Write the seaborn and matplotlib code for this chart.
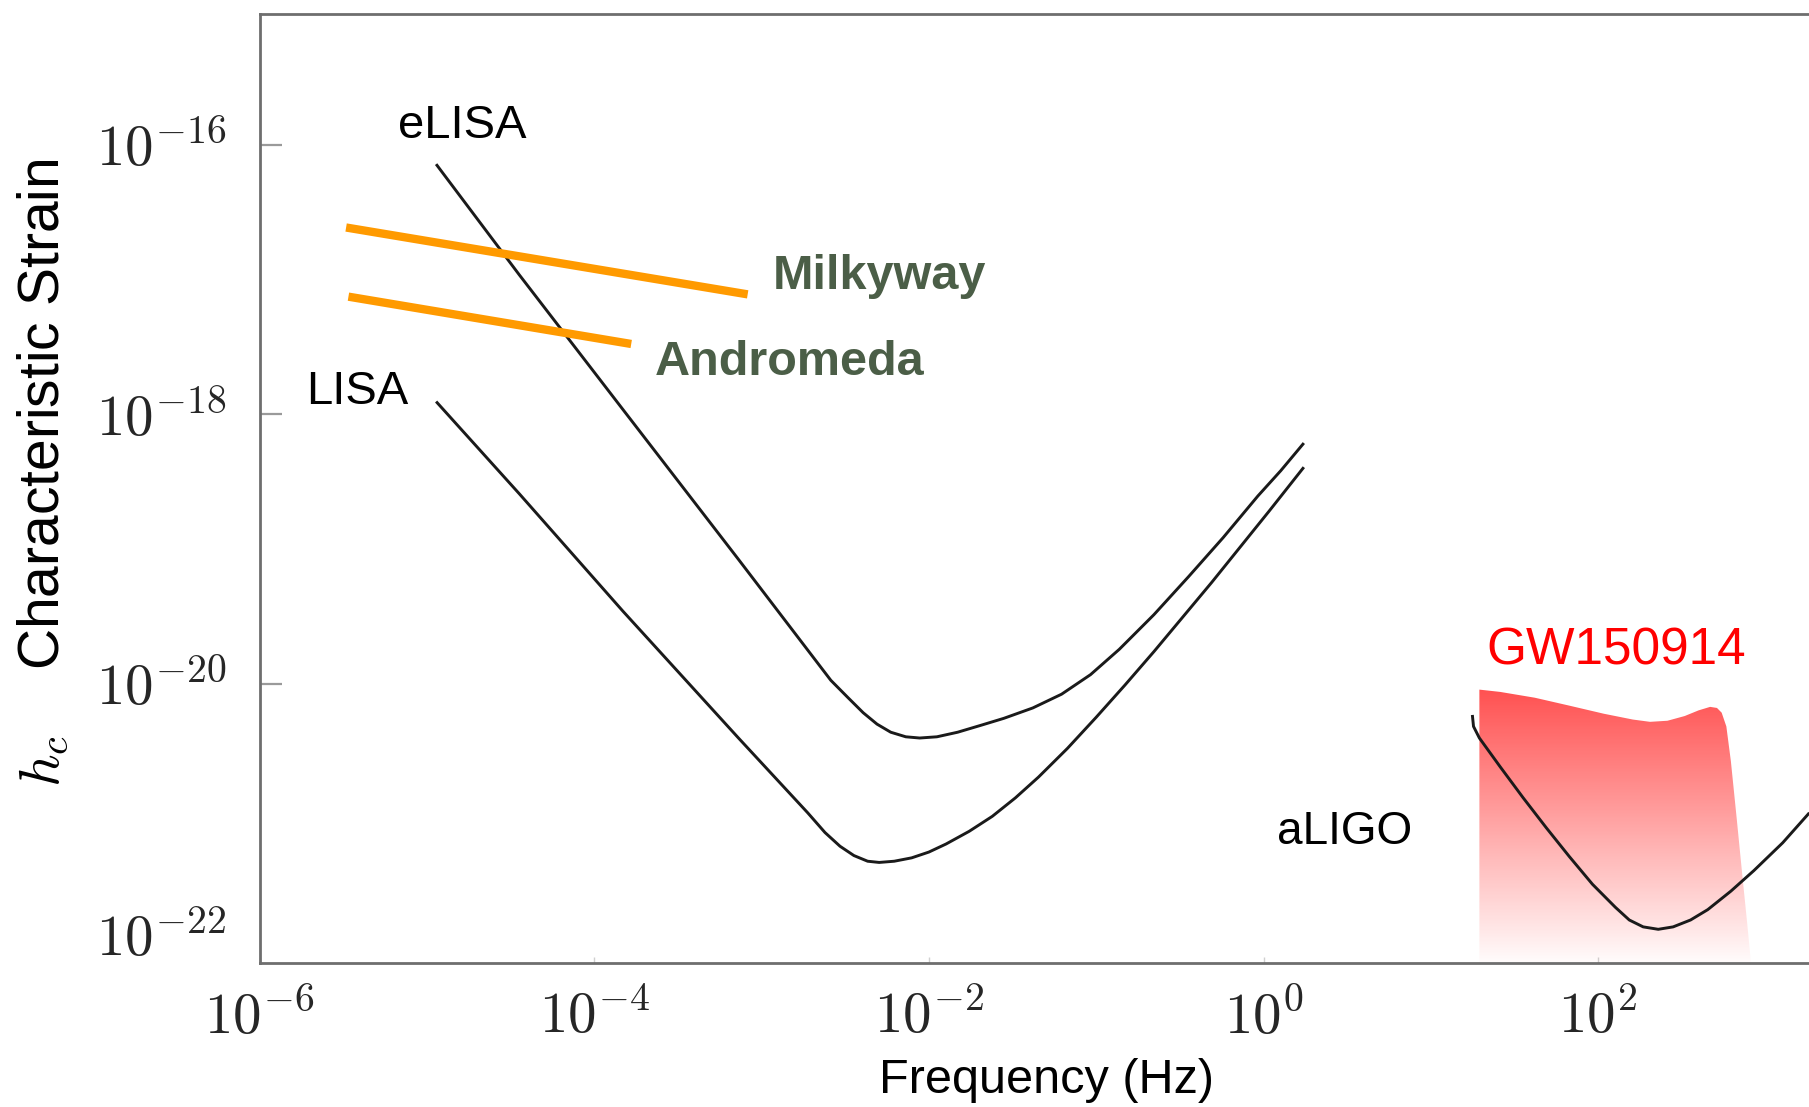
import numpy as np
import pandas as pd
import matplotlib
matplotlib.use("Agg")
import matplotlib.pyplot as plt
import seaborn as sns
from matplotlib.image import AxesImage

# ---------------- data (log10 values) ----------------
elisa_logf = [-4.945, -4.448, -3.828, -3.138, -2.586, -2.483, -2.393, -2.310, -2.228,
              -2.138, -2.055, -1.952, -1.828, -1.690, -1.552, -1.379, -1.207, -1.034,
              -0.862, -0.655, -0.448, -0.241, -0.034, 0.103, 0.241]
elisa_logh = [-16.145, -16.966, -17.966, -19.077, -19.974, -20.103, -20.214, -20.299,
              -20.359, -20.393, -20.402, -20.393, -20.359, -20.308, -20.256, -20.179,
              -20.077, -19.932, -19.744, -19.487, -19.205, -18.915, -18.607, -18.419,
              -18.214]

lisa_logf = [-4.945, -4.448, -3.828, -3.138, -2.724, -2.621, -2.531, -2.448, -2.366,
             -2.297, -2.207, -2.103, -2.000, -1.897, -1.759, -1.621, -1.483, -1.345,
             -1.172, -1.000, -0.828, -0.655, -0.310, 0.034, 0.241]
lisa_logh = [-17.906, -18.590, -19.462, -20.402, -20.957, -21.103, -21.205, -21.274,
             -21.316, -21.325, -21.316, -21.291, -21.248, -21.188, -21.094, -20.983,
             -20.846, -20.692, -20.479, -20.248, -20.009, -19.761, -19.248, -18.718,
             -18.393]

aligo_logf = [1.248, 1.255, 1.290, 1.414, 1.552, 1.690, 1.828, 1.966, 2.103, 2.186,
              2.269, 2.359, 2.448, 2.552, 2.655, 2.793, 2.931, 3.103, 3.262]
aligo_logh = [-20.231, -20.316, -20.402, -20.615, -20.846, -21.068, -21.282, -21.487,
              -21.658, -21.752, -21.803, -21.821, -21.803, -21.752, -21.675, -21.538,
              -21.385, -21.179, -20.957]

milkyway_logf = [-5.483, -3.083]
milkyway_logh = [-16.615, -17.111]
andromeda_logf = [-5.469, -3.779]
andromeda_logh = [-17.128, -17.479]

gw_logf = [1.290, 1.414, 1.621, 1.828, 2.034, 2.207, 2.310, 2.414, 2.517, 2.600,
           2.669, 2.710, 2.738, 2.766, 2.793, 2.828, 2.862, 2.890, 2.910]
gw_logh = [-20.043, -20.060, -20.103, -20.162, -20.222, -20.265, -20.282, -20.274,
           -20.239, -20.197, -20.171, -20.179, -20.214, -20.316, -20.573, -21.000,
           -21.427, -21.769, -22.026]

xtick_exp = [-6, -4, -2, 0, 2]
ytick_exp = [-16, -18, -20]
extra_ytick_exp = -22

labels = ["eLISA", "LISA", "Milkyway", "Andromeda", "aLIGO", "GW150914"]
label_logf = [-5.172, -5.724, -2.931, -3.641, 0.083, 1.331]
label_logh = [-15.949, -17.923, -17.068, -17.709, -21.188, -19.855]

# ---------------- style ----------------
sns.set_theme(style="white")
plt.rcParams["font.family"] = ["Liberation Sans", "DejaVu Sans"]
plt.rcParams["mathtext.fontset"] = "cm"

fig = plt.figure(figsize=(18.09, 11.07), dpi=100)
ax = fig.add_axes([0.1435, 0.1302, 0.8565, 0.8573])
ax.set_xscale("log")
ax.set_yscale("log")

xlim = (1e-6, 10 ** 3.26)
ylim = (10 ** -22.07, 10 ** -15.03)

def to_df(lf, lh):
    return pd.DataFrame({"f": 10.0 ** np.array(lf), "h": 10.0 ** np.array(lh)})

line_kw = dict(color="#1a1a1a", linewidth=2.1, sort=False, estimator=None, ax=ax)
sns.lineplot(data=to_df(elisa_logf, elisa_logh), x="f", y="h", **line_kw)
sns.lineplot(data=to_df(lisa_logf, lisa_logh), x="f", y="h", **line_kw)

orange_kw = dict(color="#FF9A00", linewidth=6.0, sort=False, estimator=None, ax=ax)
sns.lineplot(data=to_df(milkyway_logf, milkyway_logh), x="f", y="h", **orange_kw)
sns.lineplot(data=to_df(andromeda_logf, andromeda_logh), x="f", y="h", **orange_kw)

# GW150914 gradient-filled region
gw_f = 10.0 ** np.array(gw_logf)
gw_h = 10.0 ** np.array(gw_logh)
poly_f = np.concatenate([[gw_f[0]], gw_f, [gw_f[-1]]])
poly_h = np.concatenate([[ylim[0]], gw_h, [ylim[0]]])
poly = ax.fill(poly_f, poly_h, facecolor="none", edgecolor="none")[0]

n = 256
alpha = np.linspace(0.02, 1.0, n)
grad = np.zeros((n, 1, 4))
grad[:, 0, 0] = 1.0
grad[:, 0, 1] = 0.31
grad[:, 0, 2] = 0.31
grad[:, 0, 3] = alpha
im = AxesImage(ax, extent=(0, 1, 0, 0.29), origin="lower",
               transform=ax.transAxes, interpolation="bilinear")
im.set_data(grad)
ax.add_artist(im)
im.set_clip_path(poly)
im.set_zorder(1)

sns.lineplot(data=to_df(aligo_logf, aligo_logh), x="f", y="h", **line_kw)
for l in ax.lines:
    l.set_zorder(3)
    l.set_solid_joinstyle("round")
    l.set_solid_capstyle("butt")

ax.set_xlim(*xlim)
ax.set_ylim(*ylim)

# ticks
ax.set_xticks([10.0 ** e for e in xtick_exp])
ax.set_xticklabels([rf"$10^{{{e}}}$" for e in xtick_exp])
ax.set_yticks([10.0 ** e for e in ytick_exp])
ax.set_yticklabels([rf"$10^{{{e}}}$" for e in ytick_exp])
ax.minorticks_off()
ax.tick_params(axis="y", direction="in", length=16, width=1.6, color="#9a9a9a",
               labelsize=41, pad=24, left=True)
ax.tick_params(axis="x", direction="in", length=4, width=1.0, color="#d0d0d0",
               labelsize=41, pad=20, bottom=True)
ax.text(-0.0215, 10.0 ** -21.906, rf"$10^{{{extra_ytick_exp}}}$",
        transform=ax.get_yaxis_transform(), ha="right", va="center", fontsize=41)

for side in ["left", "bottom", "top"]:
    ax.spines[side].set_color("#6e6e6e")
    ax.spines[side].set_linewidth(2.0)
ax.spines["right"].set_visible(False)

ax.set_xlabel("")
ax.set_ylabel("")
fig.text(0.5785, 0.004, "Frequency (Hz)", ha="center", va="bottom", fontsize=35, color="black")
fig.text(0.0235, 0.573, r"$h_c$    Characteristic Strain", rotation=90,
         ha="center", va="center", fontsize=41, color="black")

# annotations
label_colors = ["black", "black", "#4b5e47", "#4b5e47", "black", "#ff0000"]
label_weights = ["normal", "normal", "bold", "bold", "normal", "normal"]
label_sizes = [34, 34, 35, 35, 33, 37]
for t, lf, lh, c, w, s in zip(labels, label_logf, label_logh, label_colors, label_weights, label_sizes):
    ax.text(10.0 ** lf, 10.0 ** lh, t, color=c, fontweight=w, fontsize=s,
            ha="left", va="baseline", zorder=5)

fig.savefig("out.png", dpi=100)
